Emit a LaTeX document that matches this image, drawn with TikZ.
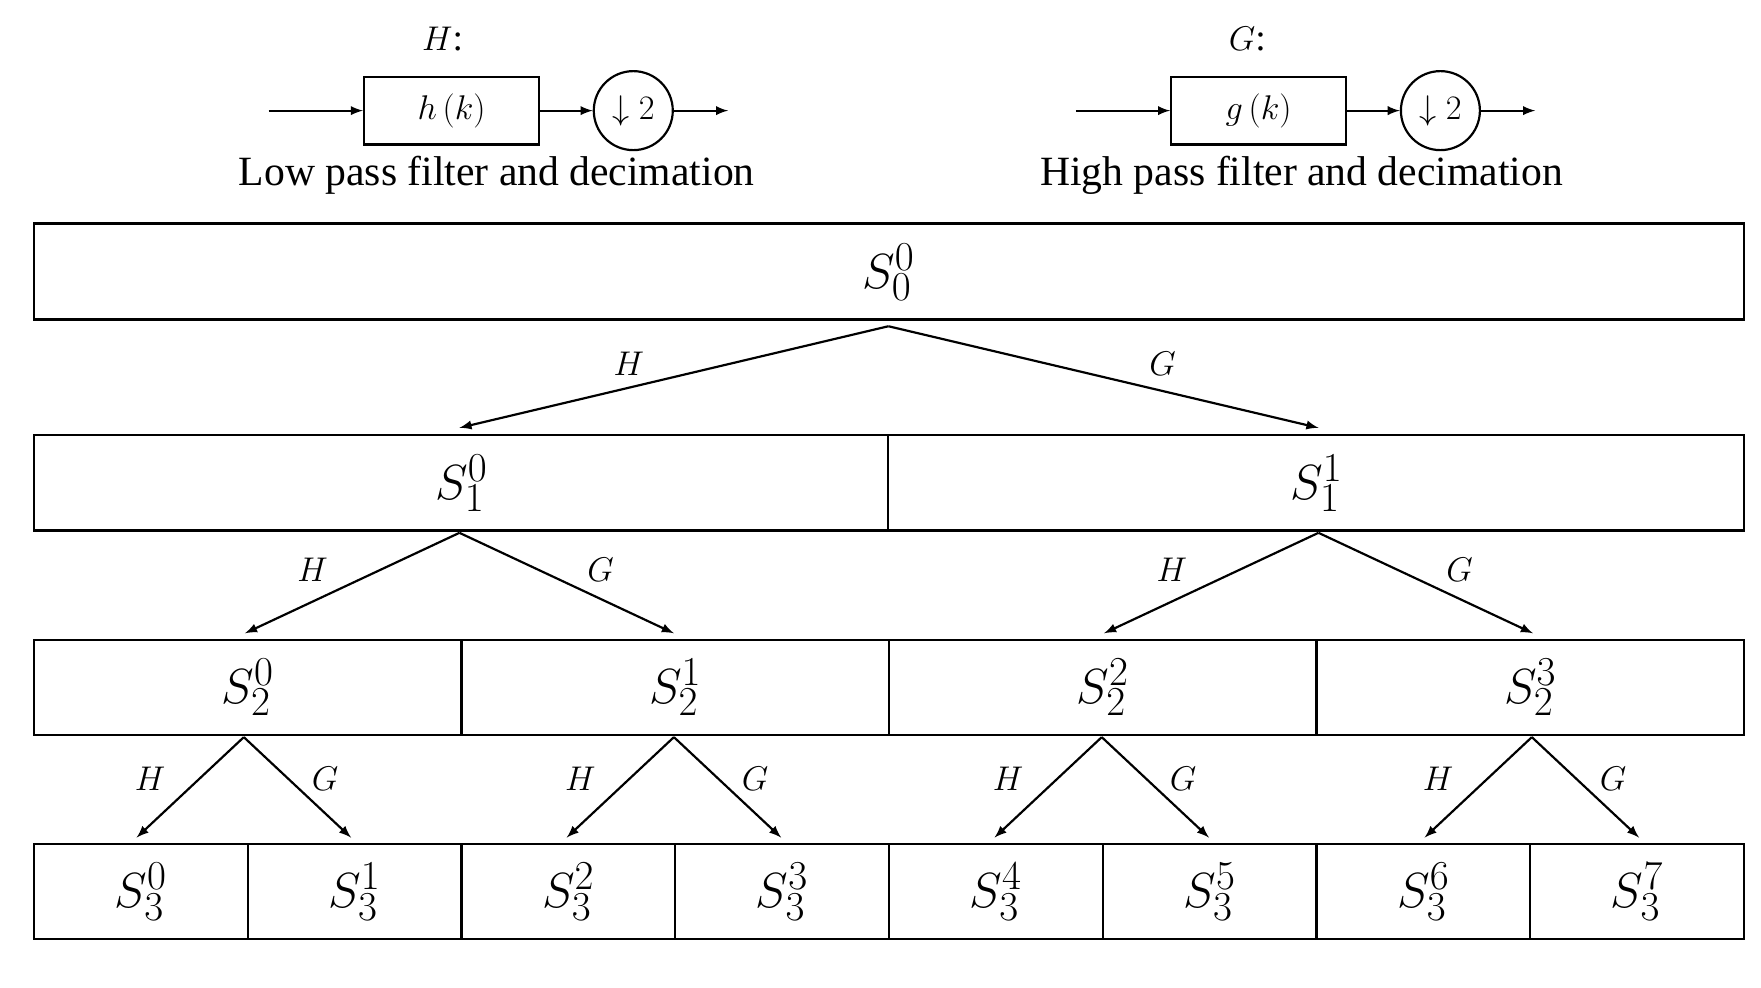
\documentclass[tikz,border=0pt]{standalone}
\usepackage{fontspec}
\setmainfont{Liberation Serif}
\begin{document}
\begin{tikzpicture}[x=0.02cm,y=-0.02cm,line width=1.1pt,>=latex,
 big/.style={font=\fontsize{30}{32}\selectfont},
 lab/.style={font=\fontsize{19}{21}\selectfont},
 captext/.style={font=\fontsize{21}{23}\selectfont},
 blk/.style={draw,minimum width=3.1cm,minimum height=1.2cm,font=\fontsize{19}{21}\selectfont},
 dec/.style={draw,circle,minimum size=1.4cm,inner sep=0,font=\fontsize{19}{21}\selectfont}]
\useasboundingbox (0,0) rectangle (1560,875);
% top blocks
\node[lab] (Hl) at (392,35) {$H$:};
\coordinate (hin) at (238,98);
\node[blk] (hk) at (400,98) {$h\,(k)$};
\node[dec] (hd) at (561,98) {$\downarrow 2$};
\coordinate (hout) at (645,98);
\draw[->] (hin) -- (hk); \draw[->] (hk) -- (hd); \draw[->] (hd) -- (hout);
\node[captext] (hc) at (440,155) {Low pass filter and decimation};
\node[lab] (Gl) at (1105,35) {$G$:};
\coordinate (gin) at (953,98);
\node[blk] (gk) at (1115,98) {$g\,(k)$};
\node[dec] (gd) at (1276,98) {$\downarrow 2$};
\coordinate (gout) at (1360,98);
\draw[->] (gin) -- (gk); \draw[->] (gk) -- (gd); \draw[->] (gd) -- (gout);
\node[captext] (gc) at (1153,155) {High pass filter and decimation};
% rows
\draw (30,198) rectangle (1545,283);
\node[big] (s00) at (787,241) {$S_0^0$};
\draw (30,385) rectangle (1545,470) (787,385) -- (787,470);
\foreach \i in {0,1}{\node[big] (s1\i) at (30+757.5*\i+378.75,428) {$S_1^{\i}$};}
\draw (30,567) rectangle (1545,651);
\foreach \k in {1,2,3}{\draw (30+378.75*\k,567) -- (30+378.75*\k,651);}
\foreach \i in {0,...,3}{\node[big] (s2\i) at (30+378.75*\i+189.4,609) {$S_2^{\i}$};}
\draw (30,748) rectangle (1545,832);
\foreach \k in {1,...,7}{\draw (30+189.375*\k,748) -- (30+189.375*\k,832);}
\foreach \i in {0,...,7}{\node[big] (s3\i) at (30+189.375*\i+94.7,790) {$S_3^{\i}$};}
% arrows level 0
\coordinate (a0) at (787,289);
\draw[->] (a0) -- (407,379); \node[lab] at (557,322) {$H$};
\draw[->] (a0) -- (1168,379); \node[lab] at (1030,322) {$G$};
% level 1
\foreach \c in {407,1168}{
 \draw[->] (\c,472) -- (\c-190,561); \node[lab] at (\c-130,505) {$H$};
 \draw[->] (\c,472) -- (\c+190,561); \node[lab] at (\c+125,505) {$G$};}
% level 2
\foreach \c in {216,597,976,1357}{
 \draw[->] (\c,653) -- (\c-95,742); \node[lab] at (\c-83,690) {$H$};
 \draw[->] (\c,653) -- (\c+95,742); \node[lab] at (\c+72,690) {$G$};}
\end{tikzpicture}
\end{document}
